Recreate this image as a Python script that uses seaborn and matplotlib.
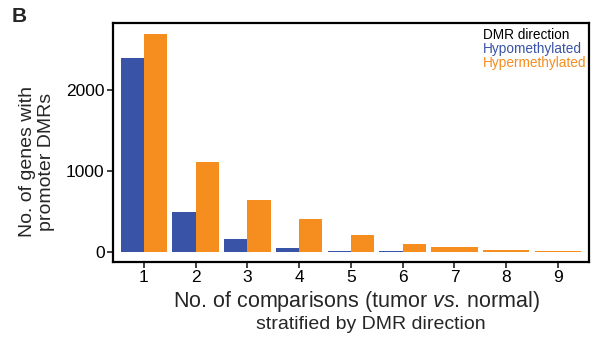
import matplotlib
matplotlib.use("Agg")
import matplotlib.pyplot as plt
import seaborn as sns
import pandas as pd

# Data
comparisons = ["1", "2", "3", "4", "5", "6", "7", "8", "9"]
both_groups = ["1", "2", "3", "4", "5", "6"]
hypo_counts = [2385, 485, 155, 45, 12, 12]
hyper_counts_both = [2690, 1110, 633, 400, 204, 94]
hyper_only_groups = ["7", "8", "9"]
hyper_only_counts = [58, 22, 11]
directions = ["Hypomethylated", "Hypermethylated"]
colors = {"Hypomethylated": "#3954A6", "Hypermethylated": "#F68D1F"}

sns.set_style("white")
plt.rcParams["font.family"] = ["Liberation Sans", "DejaVu Sans"]
plt.rcParams["mathtext.fontset"] = "custom"
plt.rcParams["mathtext.rm"] = "Liberation Sans"
plt.rcParams["mathtext.it"] = "Liberation Sans:italic"

df_both = pd.DataFrame({
    "n": both_groups * 2,
    "count": hypo_counts + hyper_counts_both,
    "dir": [directions[0]] * len(both_groups) + [directions[1]] * len(both_groups),
})
df_single = pd.DataFrame({"n": hyper_only_groups, "count": hyper_only_counts})

fig = plt.figure(figsize=(5.94, 3.42), dpi=100)
ax = fig.add_axes([0.19, 0.234, 0.8016, 0.6996])

sns.barplot(data=df_both, x="n", y="count", hue="dir", order=comparisons,
            hue_order=directions, palette=colors, width=0.9, saturation=1,
            gap=0, errorbar=None, ax=ax, legend=False)
sns.barplot(data=df_single, x="n", y="count", order=comparisons,
            color=colors["Hypermethylated"], width=0.9, saturation=1,
            errorbar=None, ax=ax)
for p in ax.patches:
    p.set_linewidth(0)

ax.set_xlim(-0.6, 8.6)
ax.set_ylim(-125, 2824)
ax.set_yticks([0, 1000, 2000])
ax.set_xlabel("")
ax.set_ylabel("")
for s in ax.spines.values():
    s.set_visible(True)
    s.set_color("black")
    s.set_linewidth(1.6)
ax.tick_params(axis="both", which="both", direction="out", length=4, width=1.3,
               color="#333333", labelsize=12.5, labelcolor="black", pad=2,
               bottom=True, left=True)

# axis titles
fig.text(356.5 / 594, 1 - 307 / 342,
         "No. of comparisons (tumor $\\it{vs.}\\,$normal)",
         ha="center", va="baseline", fontsize=15.5)
fig.text(371 / 594, 1 - 329 / 342, "stratified by DMR direction",
         ha="center", va="baseline", fontsize=14)
fig.text(37 / 594, 1 - 162 / 342, "No. of genes with\npromoter DMRs",
         ha="center", va="center", rotation=90, fontsize=14,
         multialignment="center", linespacing=1.2)

# legend as text
fig.text(483 / 594, 1 - 35 / 342, "DMR direction", ha="left", va="center",
         fontsize=9.8, color="black")
fig.text(483 / 594, 1 - 49 / 342, "Hypomethylated", ha="left", va="center",
         fontsize=9.8, color=colors["Hypomethylated"])
fig.text(483 / 594, 1 - 63 / 342, "Hypermethylated", ha="left", va="center",
         fontsize=9.8, color=colors["Hypermethylated"])

fig.text(12 / 594, 1 - 16.7 / 342, "B", ha="left", va="center", fontsize=15,
         fontweight="bold")

fig.savefig("out.png", dpi=100)
